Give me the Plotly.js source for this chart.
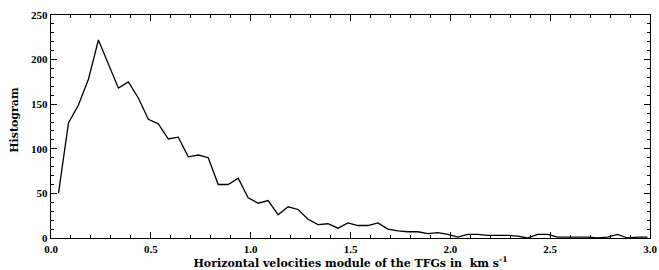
<!DOCTYPE html>
<html>
<head>
<meta charset="utf-8">
<script src="https://cdn.plot.ly/plotly-3.0.1.min.js"></script>
<style>html,body{margin:0;padding:0;background:#fff;}#chart{width:659px;height:270px;}</style>
</head>
<body>
<div id="chart"></div>
<script>
// Bin positions (km/s) and histogram counts
var velocity = [
  0.0375, 0.0875, 0.1375, 0.1875, 0.2375, 0.2875, 0.3375, 0.3875, 0.4375, 0.4875,
  0.5375, 0.5875, 0.6375, 0.6875, 0.7375, 0.7875, 0.8375, 0.8875, 0.9375, 0.9875,
  1.0375, 1.0875, 1.1375, 1.1875, 1.2375, 1.2875, 1.3375, 1.3875, 1.4375, 1.4875,
  1.5375, 1.5875, 1.6375, 1.6875, 1.7375, 1.7875, 1.8375, 1.8875, 1.9375, 1.9875,
  2.0375, 2.0875, 2.1375, 2.1875, 2.2375, 2.2875, 2.3375, 2.3875, 2.4375, 2.4875,
  2.5375, 2.5875, 2.6375, 2.6875, 2.7375, 2.7875, 2.8375, 2.8875, 2.9375, 2.9875
];
var counts = [
  50, 129, 149, 178, 222, 195, 168, 175, 157, 133,
  128, 111, 113, 91, 93, 90, 60, 60, 67, 45,
  39, 42, 26, 35, 32, 21, 15, 16, 11, 17,
  14, 14, 17, 10, 8, 7, 7, 5, 6, 4,
  1, 4, 4, 3, 3, 3, 2, 0, 4, 4,
  1, 1, 1, 1, 0, 1, 4, 0, 1, 1
];
var xTickVals = [0, 0.5, 1.0, 1.5, 2.0, 2.5, 3.0];
var xTickText = ["0.0", "0.5", "1.0", "1.5", "2.0", "2.5", "3.0"];
var yTickVals = [0, 50, 100, 150, 200, 250];
var yTickText = ["0", "50", "100", "150", "200", "250"];
var xTitle = "Horizontal velocities module of the TFGs in  km s<sup>-1</sup>";
var yTitle = "Histogram";

var tickFam = "Liberation Serif, DejaVu Serif, serif";
var titleFam = "DejaVu Serif, Liberation Serif, serif";

var trace = {
  x: velocity, y: counts, type: "scatter", mode: "lines",
  line: {color: "#000", width: 1.3}, hoverinfo: "skip"
};

var axisCommon = {
  showline: true, linecolor: "#000", linewidth: 1.2, mirror: "ticks",
  ticks: "inside", tickcolor: "#000", tickwidth: 1.1, ticklen: 6,
  showgrid: false, zeroline: false, fixedrange: true,
  tickfont: {family: tickFam, size: 11, color: "#000", weight: "bold"}
};

var layout = {
  width: 659, height: 270,
  margin: {l: 51, r: 9, t: 15, b: 32, pad: 0},
  paper_bgcolor: "#fff", plot_bgcolor: "#fff",
  showlegend: false,
  xaxis: Object.assign({}, axisCommon, {
    range: [0, 3.0], tickmode: "array", tickvals: xTickVals, ticktext: xTickText,
    ticklabelstandoff: 1,
    minor: {dtick: 0.1, tick0: 0, ticks: "inside", ticklen: 3, tickcolor: "#000", tickwidth: 1, showgrid: false},
    title: {text: xTitle, font: {family: titleFam, size: 11, color: "#000", weight: "bold"}, standoff: 3}
  }),
  yaxis: Object.assign({}, axisCommon, {
    range: [0, 250], tickmode: "array", tickvals: yTickVals, ticktext: yTickText,
    minor: {dtick: 10, tick0: 0, ticks: "inside", ticklen: 3, tickcolor: "#000", tickwidth: 1, showgrid: false}
  }),
  annotations: [{
    text: yTitle, xref: "paper", yref: "paper", x: 0, y: 0.53,
    xanchor: "center", yanchor: "middle", xshift: -36, textangle: -90, showarrow: false,
    font: {family: titleFam, size: 11, color: "#000", weight: "bold"}
  }]
};

Plotly.newPlot("chart", [trace], layout, {displayModeBar: false, staticPlot: true});
</script>
</body>
</html>
